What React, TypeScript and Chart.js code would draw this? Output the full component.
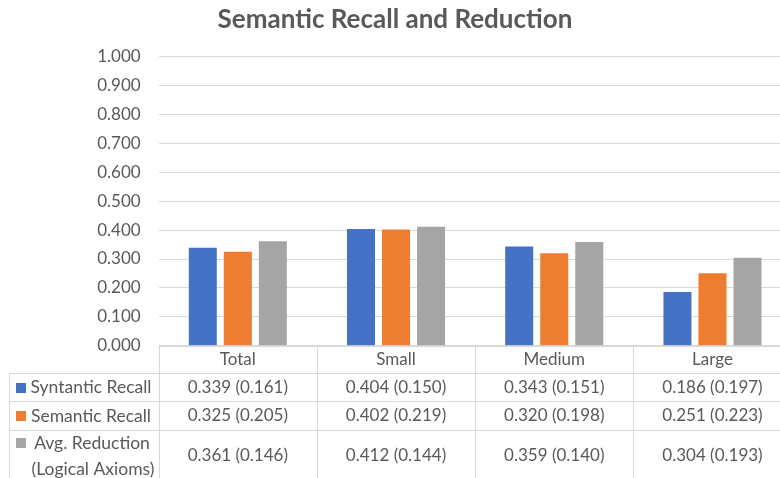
import React, { useEffect, useRef } from "react";
import { Chart, registerables } from "chart.js";

Chart.register(...registerables);

// Chart data
const categories = ["Total", "Small", "Medium", "Large"];
const syntacticRecall = [0.339, 0.404, 0.343, 0.186];
const syntacticRecallSd = [0.161, 0.15, 0.151, 0.197];
const semanticRecall = [0.325, 0.402, 0.32, 0.251];
const semanticRecallSd = [0.205, 0.219, 0.198, 0.223];
const avgReduction = [0.361, 0.412, 0.359, 0.304];
const avgReductionSd = [0.146, 0.144, 0.14, 0.193];
const seriesLabels = [["Syntantic Recall"], ["Semantic Recall"], ["Avg. Reduction", "(Logical Axioms)"]];
const seriesColors = ["#4472C4", "#ED7D31", "#A5A5A5"];
const yTicks = [0, 0.1, 0.2, 0.3, 0.4, 0.5, 0.6, 0.7, 0.8, 0.9, 1.0];
const titleText = "Semantic Recall and Reduction";

const FONT = "Lato, 'Open Sans', sans-serif";
const TEXT = "#595959";
const LINE = "#d9d9d9";

const W = 800;
const H = 490;

// Title and data table drawn under the plot, aligned to the category scale.
const tablePlugin = {
  id: "dataTable",
  afterDraw(chart: any) {
    const ctx: CanvasRenderingContext2D = chart.ctx;
    const area = chart.chartArea;
    const xs = chart.scales.x;
    const n = categories.length;
    const band = (area.right - area.left) / n;

    ctx.save();
    // title
    ctx.fillStyle = TEXT;
    ctx.font = `bold 26px ${FONT}`;
    ctx.textAlign = "center";
    ctx.textBaseline = "alphabetic";
    ctx.fillText(titleText, 395, 28);

    const y0 = Math.round(area.bottom) + 0.5;
    const rows = [y0, 373.5, 401.5, 430.5, 482.5];
    const tableLeft = 9.5;

    ctx.strokeStyle = LINE;
    ctx.lineWidth = 1;
    ctx.beginPath();
    // axis line / header top
    ctx.moveTo(area.left, rows[0]);
    ctx.lineTo(area.right, rows[0]);
    for (let r = 1; r < rows.length; r++) {
      ctx.moveTo(tableLeft, rows[r]);
      ctx.lineTo(area.right, rows[r]);
    }
    // column separators
    for (let i = 0; i <= n; i++) {
      const x = Math.round(area.left + i * band) + 0.5;
      ctx.moveTo(x, rows[0]);
      ctx.lineTo(x, rows[rows.length - 1]);
    }
    ctx.moveTo(tableLeft, rows[1]);
    ctx.lineTo(tableLeft, rows[rows.length - 1]);
    ctx.stroke();

    // header row
    ctx.fillStyle = TEXT;
    ctx.font = `17px ${FONT}`;
    ctx.textBaseline = "middle";
    ctx.textAlign = "center";
    categories.forEach((c, i) => {
      ctx.fillText(c, xs.getPixelForValue(i), (rows[0] + rows[1]) / 2);
    });

    const values = [syntacticRecall, semanticRecall, avgReduction];
    const sds = [syntacticRecallSd, semanticRecallSd, avgReductionSd];
    const rowCenters = [387.5, 416, 456];
    const squareTops = [383, 411, 438];
    values.forEach((vals, s) => {
      const cy = rowCenters[s];
      ctx.font = `17px ${FONT}`;
      vals.forEach((v, i) => {
        ctx.fillStyle = TEXT;
        ctx.fillText(`${v.toFixed(3)} (${sds[s][i].toFixed(3)})`, xs.getPixelForValue(i), cy);
      });
      // legend key
      ctx.fillStyle = seriesColors[s];
      ctx.fillRect(16, squareTops[s], 10, 10);
      ctx.fillStyle = TEXT;
      ctx.font = `17.5px ${FONT}`;
      const lines = seriesLabels[s];
      if (lines.length === 1) {
        ctx.fillText(lines[0], 91, cy);
      } else {
        ctx.fillText(lines[0], 92, 443);
        ctx.fillText(lines[1], 93, 469);
      }
    });
    ctx.restore();
  },
};

export default function App() {
  const ref = useRef<HTMLCanvasElement>(null);

  useEffect(() => {
    if (!ref.current) return;
    const chart = new Chart(ref.current, {
      type: "bar",
      data: {
        labels: categories,
        datasets: [
          { label: seriesLabels[0].join(" "), data: syntacticRecall, backgroundColor: seriesColors[0] },
          { label: seriesLabels[1].join(" "), data: semanticRecall, backgroundColor: seriesColors[1] },
          { label: seriesLabels[2].join(" "), data: avgReduction, backgroundColor: seriesColors[2] },
        ],
      },
      options: {
        responsive: false,
        animation: false,
        devicePixelRatio: 1,
        layout: { padding: { left: 0, top: 56.7, right: 8.4, bottom: 144.3 } },
        datasets: { bar: { categoryPercentage: 0.664, barPercentage: 0.8, borderWidth: 0 } },
        plugins: {
          legend: { display: false },
          title: { display: false },
          tooltip: { enabled: false },
        },
        scales: {
          x: {
            grid: { display: false },
            border: { display: false },
            ticks: { display: false },
            afterFit(scale: any) {
              scale.height = 0;
            },
          },
          y: {
            min: 0,
            max: 1,
            afterBuildTicks(scale: any) {
              scale.ticks = yTicks.map((v) => ({ value: v }));
            },
            afterFit(scale: any) {
              scale.width = 158.7;
            },
            grid: { color: LINE, drawTicks: false, lineWidth: 1 },
            border: { display: false },
            ticks: {
              padding: 18,
              color: TEXT,
              font: { family: FONT, size: 17 },
              callback: (v: any) => Number(v).toFixed(3),
            },
          },
        },
      },
      plugins: [tablePlugin],
    });
    return () => chart.destroy();
  }, []);

  return (
    <div
      style={{
        position: "fixed",
        left: 0,
        top: 0,
        width: 780,
        height: 478,
        overflow: "hidden",
        background: "#fff",
      }}
    >
      <canvas ref={ref} width={W} height={H} style={{ width: W, height: H, display: "block" }} />
    </div>
  );
}
